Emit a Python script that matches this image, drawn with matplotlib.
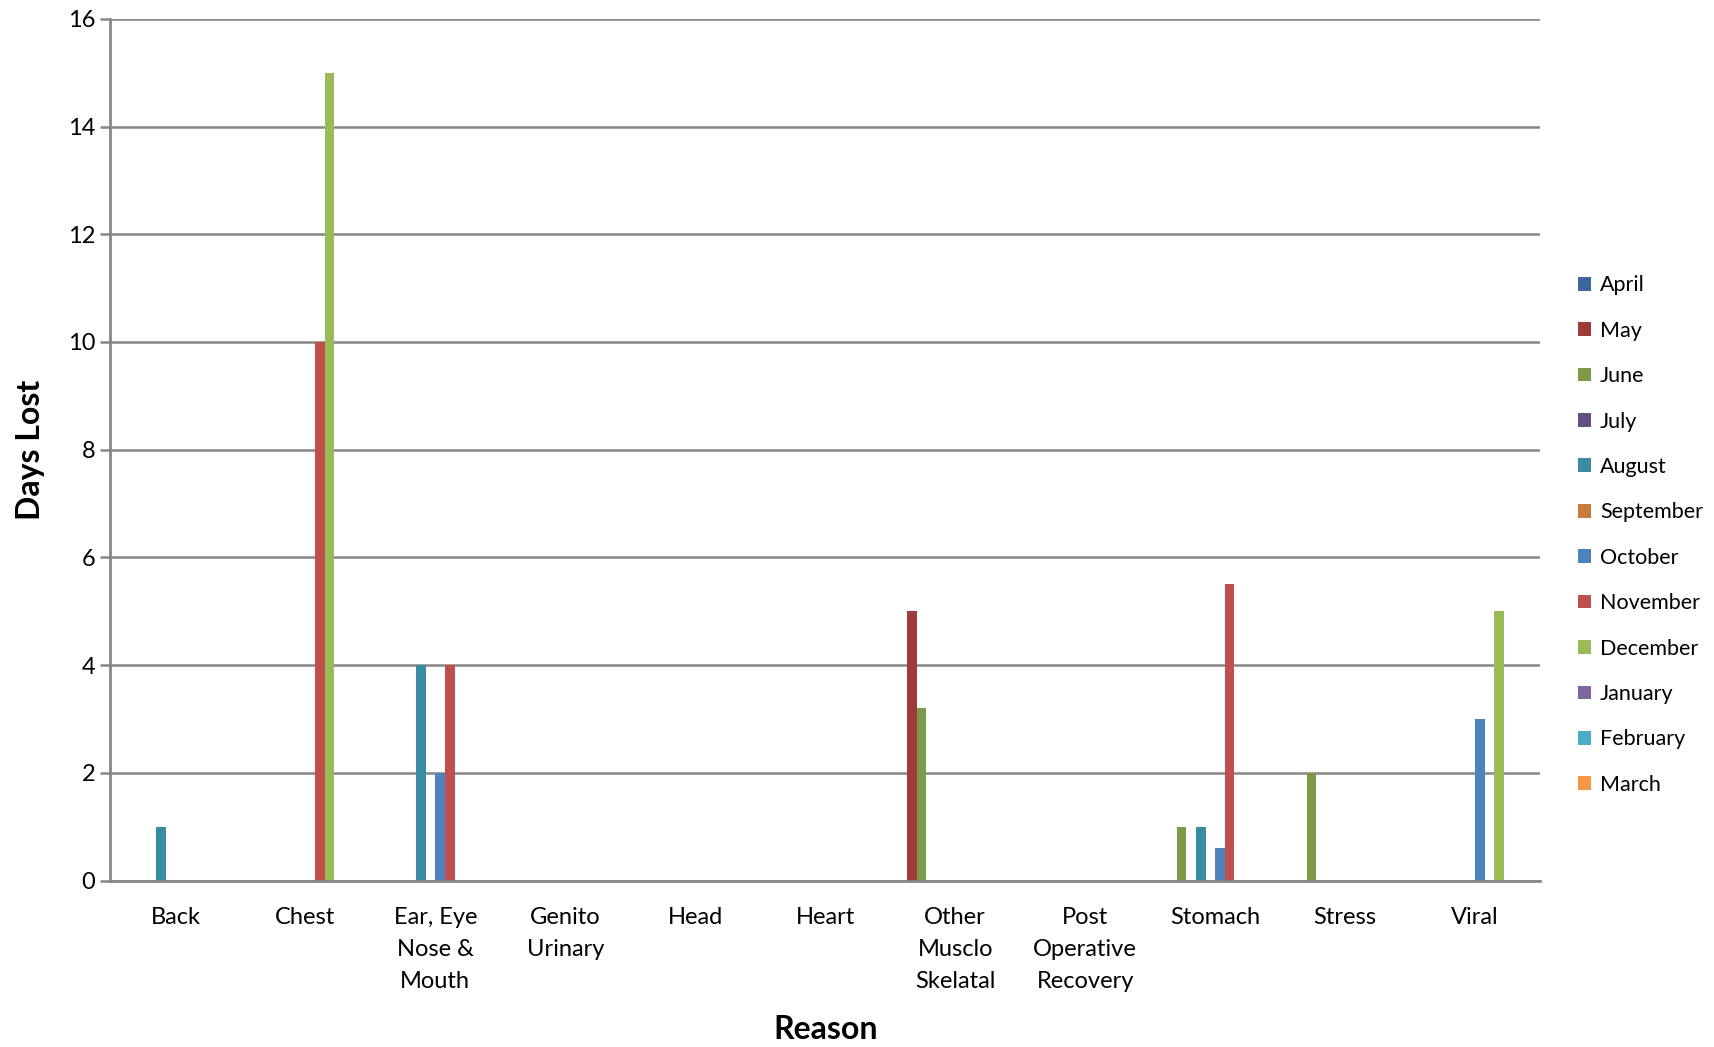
import numpy as np
import matplotlib.pyplot as plt

plt.rcParams["font.family"] = ["Lato", "DejaVu Sans"]

reasons = ["Back", "Chest", "Ear, Eye\nNose &\nMouth", "Genito\nUrinary", "Head", "Heart",
           "Other\nMusclo\nSkelatal", "Post\nOperative\nRecovery", "Stomach", "Stress", "Viral"]
months = ["April", "May", "June", "July", "August", "September",
          "October", "November", "December", "January", "February", "March"]

# days lost per reason, one list per month
april = [0, 0, 0, 0, 0, 0, 0, 0, 0, 0, 0]
may = [0, 0, 0, 0, 0, 0, 5, 0, 0, 0, 0]
june = [0, 0, 0, 0, 0, 0, 3.2, 0, 1, 2, 0]
july = [0, 0, 0, 0, 0, 0, 0, 0, 0, 0, 0]
august = [1, 0, 4, 0, 0, 0, 0, 0, 1, 0, 0]
september = [0, 0, 0, 0, 0, 0, 0, 0, 0, 0, 0]
october = [0, 0, 2, 0, 0, 0, 0, 0, 0.6, 0, 3]
november = [0, 10, 4, 0, 0, 0, 0, 0, 5.5, 0, 0]
december = [0, 15, 0, 0, 0, 0, 0, 0, 0, 0, 5]
january = [0, 0, 0, 0, 0, 0, 0, 0, 0, 0, 0]
february = [0, 0, 0, 0, 0, 0, 0, 0, 0, 0, 0]
march = [0, 0, 0, 0, 0, 0, 0, 0, 0, 0, 0]

series = [april, may, june, july, august, september,
          october, november, december, january, february, march]
colors = ["#3D679A", "#9E3B38", "#7E9A48", "#654F84", "#3A8CA2", "#CC7A3A",
          "#4F81BD", "#C0504D", "#9BBB59", "#8064A2", "#4BACC6", "#F79646"]

fig = plt.figure(figsize=(17.15, 10.47), dpi=100)
ax = fig.add_axes([0.0644, 0.159, 0.8336, 0.823])

x = np.arange(len(reasons))
n = len(months)
bw = 1.0 / (n + 1.5)
for i, (name, vals) in enumerate(zip(months, series)):
    offs = (i - (n - 1) / 2) * bw
    ax.bar(x + offs, vals, width=bw, color=colors[i], label=name, zorder=3)

grid_c = "#878787"
ax.set_xlim(-0.5, len(reasons) - 0.5)
ax.set_ylim(0, 16)
ax.set_yticks(range(0, 17, 2))
ax.yaxis.grid(True, color=grid_c, linewidth=1.8, zorder=0)
ax.set_axisbelow(True)
for s in ["top", "right"]:
    ax.spines[s].set_visible(False)
for s in ["left", "bottom"]:
    ax.spines[s].set_color(grid_c)
    ax.spines[s].set_linewidth(2)
    ax.spines[s].set_zorder(4)

ax.set_xticks(x)
ax.set_xticklabels(reasons, fontsize=17, linespacing=1.64)
ax.tick_params(axis="x", length=0, pad=19)
ax.tick_params(axis="y", length=7, width=1.8, color=grid_c, labelsize=17, pad=4)

ax.set_ylabel("Days Lost", fontsize=23, fontweight="bold", labelpad=16)
ax.set_xlabel("Reason", fontsize=23, fontweight="bold", labelpad=17)

leg = fig.legend(loc="center left", bbox_to_anchor=(0.909, 0.489), frameon=False,
                 fontsize=15.5, handlelength=0.6, handleheight=0.6, handletextpad=0.4,
                 labelspacing=1.18)

fig.savefig("out.png", dpi=100)
